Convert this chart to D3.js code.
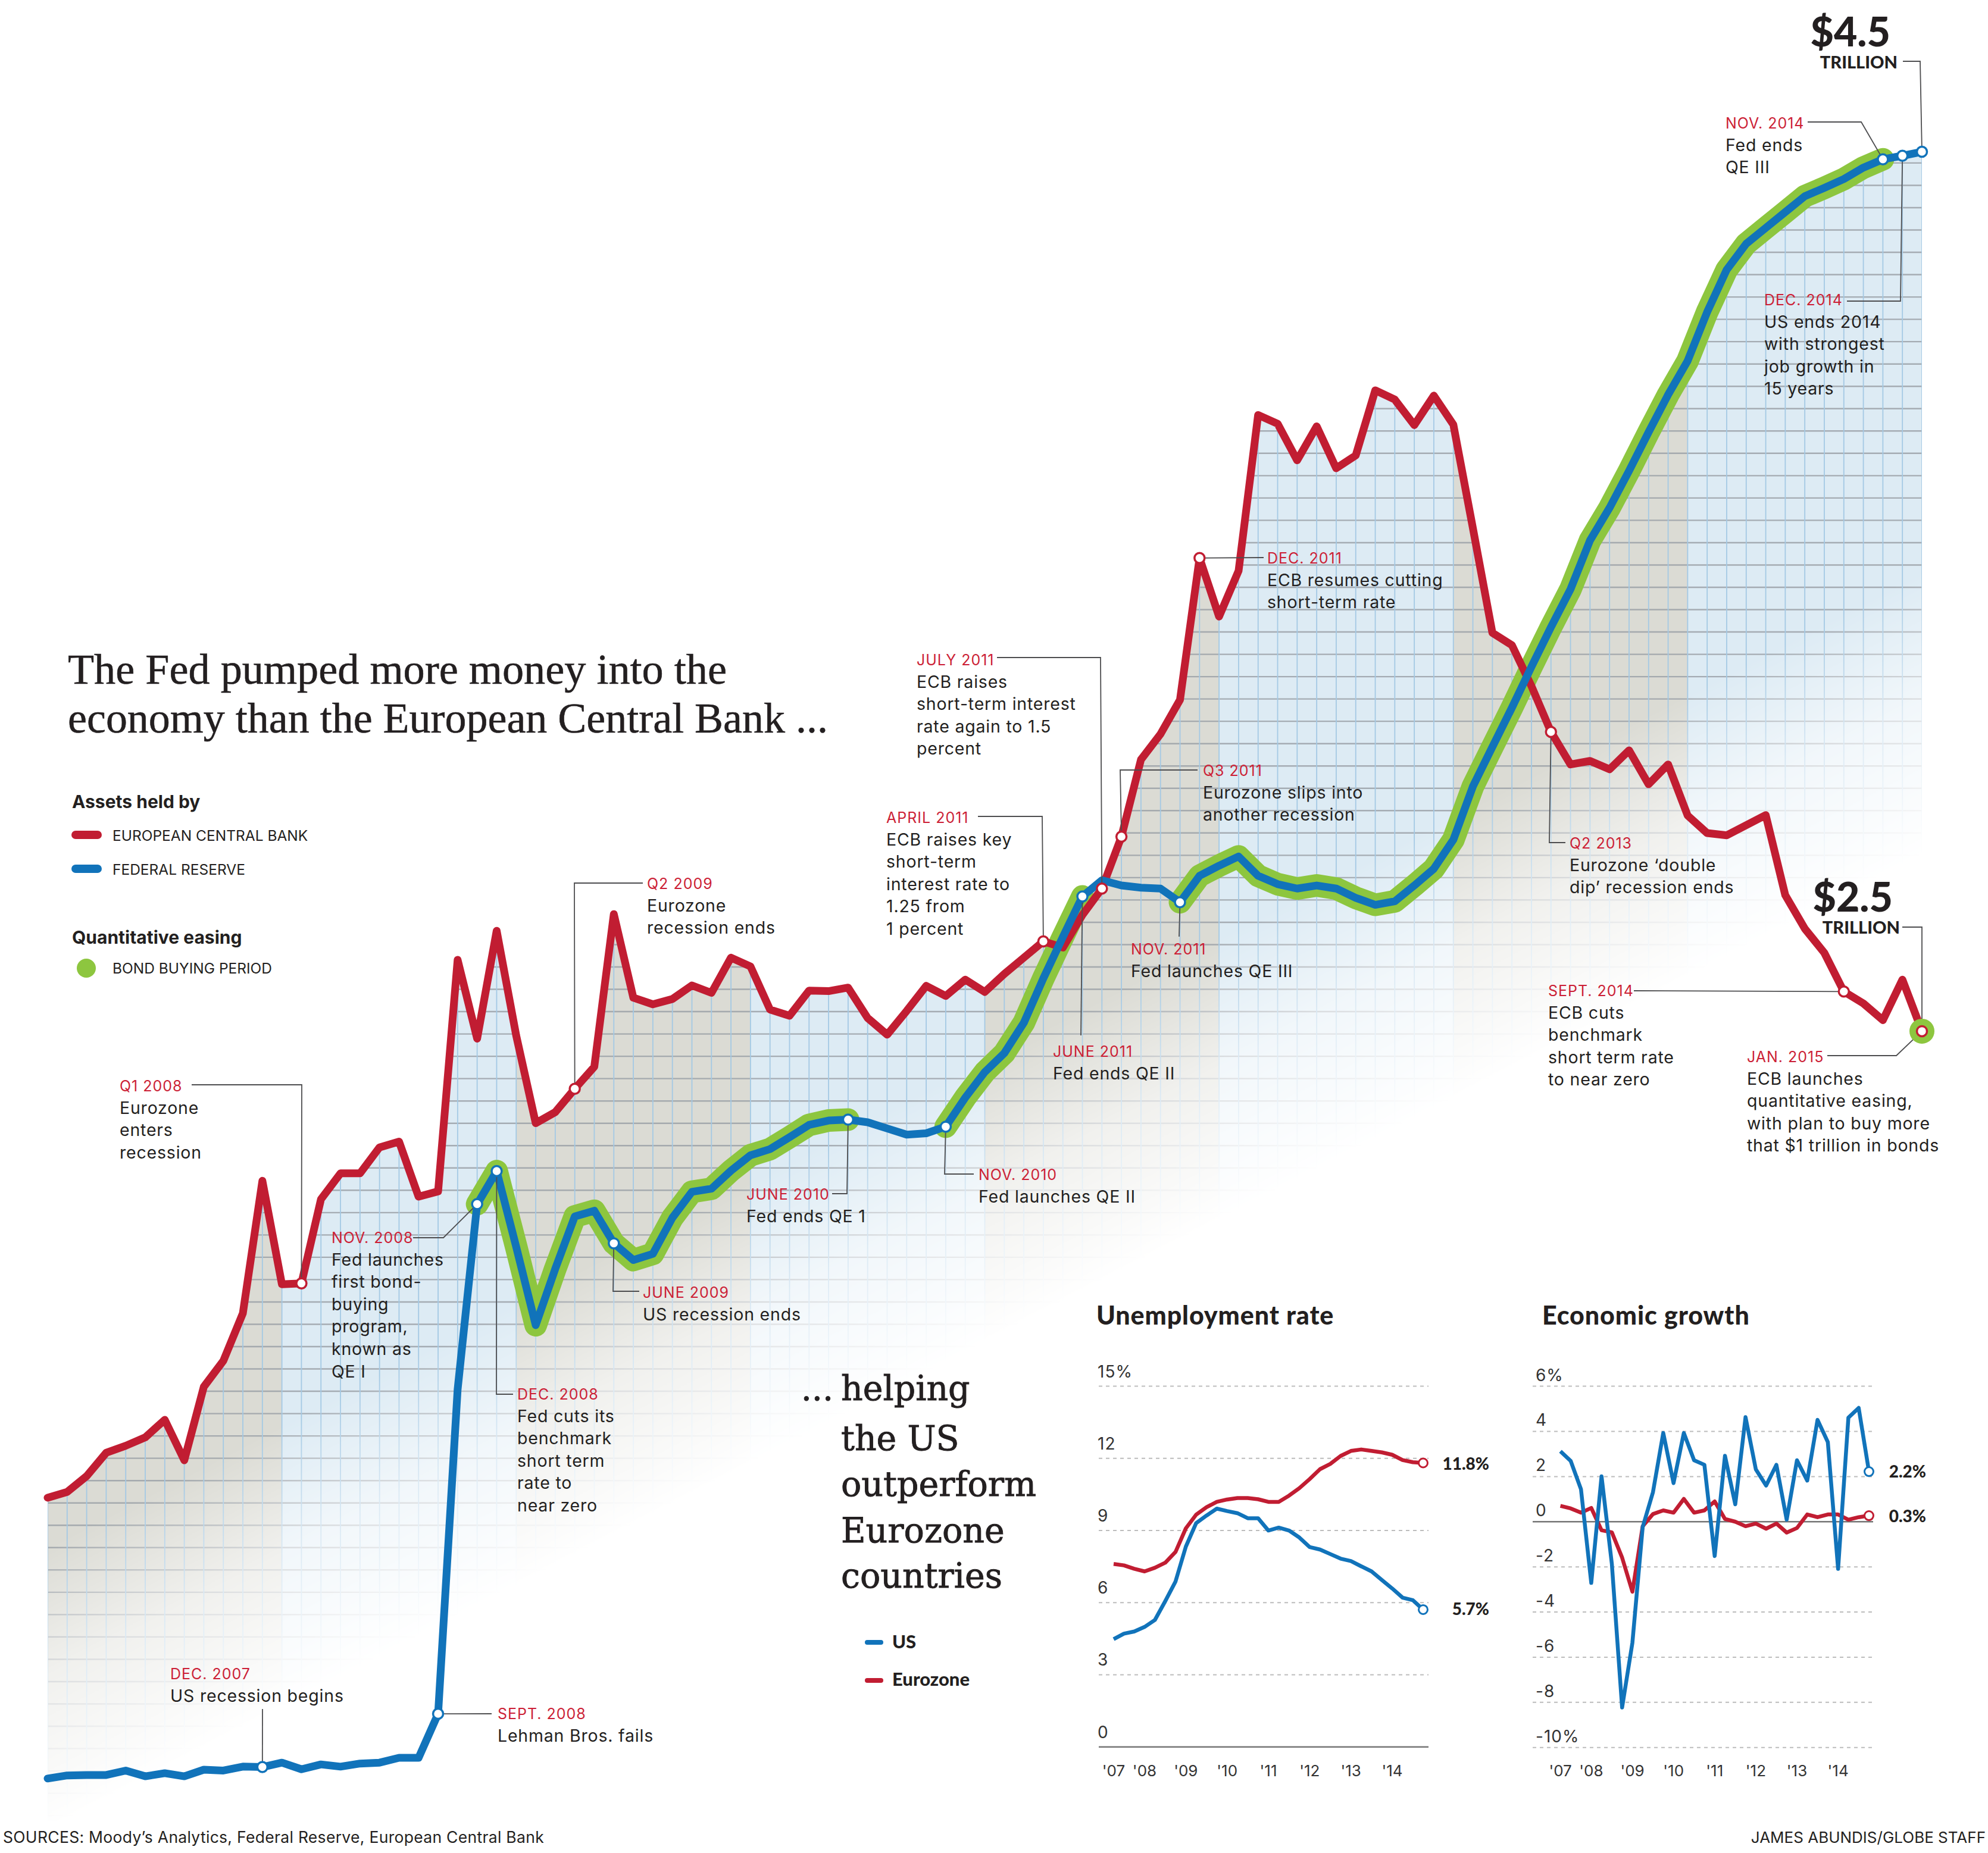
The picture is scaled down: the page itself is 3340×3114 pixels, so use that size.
<!DOCTYPE html>
<html><head><meta charset="utf-8">
<script src="https://cdn.jsdelivr.net/npm/d3@7/dist/d3.min.js"></script>
<style>
html,body{margin:0;padding:0;background:#fff;}
svg{display:block;}
</style></head>
<body>
<svg id="chart" width="3340" height="3114" xmlns="http://www.w3.org/2000/svg"></svg>
<script>
// ================= DATA =================
// Monthly categories, Jan 2007 .. Jan 2015
const months = d3.timeMonth.range(new Date(2007,0,1), new Date(2015,0,2)).map(d3.timeFormat("%Y-%m"));

// Assets held, trillions of dollars
const ecbAssets = [
 1.440,1.453,1.489,1.542,1.558,1.577,1.617,1.525,1.692,1.751,1.859,2.160,
 1.925,1.927,2.118,2.177,2.177,2.236,2.249,2.124,2.136,2.662,2.483,2.728,
 2.490,2.291,2.316,2.369,2.419,2.766,2.576,2.561,2.573,2.604,2.587,2.667,
 2.647,2.549,2.535,2.592,2.591,2.599,2.530,2.492,2.546,2.603,2.580,2.617,
 2.589,2.630,2.667,2.704,2.690,2.764,2.824,2.942,3.117,3.175,3.253,3.575,
 3.442,3.546,3.900,3.880,3.797,3.874,3.779,3.808,3.956,3.935,3.877,3.944,
 3.878,3.643,3.405,3.377,3.284,3.180,3.106,3.114,3.095,3.138,3.061,3.106,
 2.990,2.950,2.945,2.968,2.991,2.809,2.733,2.678,2.590,2.563,2.525,2.617,
 2.500];
const fedAssets = [
 0.802,0.809,0.810,0.810,0.820,0.807,0.814,0.807,0.822,0.820,0.829,0.828,
 0.838,0.823,0.834,0.829,0.836,0.838,0.849,0.849,0.949,1.686,2.107,2.182,
 2.010,1.832,1.960,2.079,2.092,2.018,1.980,1.994,2.076,2.135,2.142,2.183,
 2.218,2.232,2.259,2.287,2.297,2.299,2.293,2.279,2.265,2.268,2.283,2.349,
 2.407,2.450,2.519,2.620,2.714,2.806,2.843,2.831,2.826,2.824,2.793,2.853,
 2.876,2.897,2.853,2.834,2.824,2.831,2.824,2.803,2.787,2.795,2.831,2.869,
 2.935,3.056,3.146,3.235,3.328,3.418,3.504,3.615,3.689,3.773,3.861,3.946,
 4.023,4.134,4.230,4.289,4.325,4.361,4.397,4.416,4.436,4.462,4.481,4.489,
 4.498];
// Fed bond-buying periods
const qePeriods = [["2008-11","2010-06"],["2010-11","2011-06"],["2011-11","2014-11"]];

// Quarterly categories Q2 2007 .. Q4 2014
const quarters = d3.range(31).map(i => { const a = 2007*4 + 1 + i; return Math.floor(a/4) + "Q" + (a%4 + 1); });
const usUnemployment = [4.48,4.71,4.80,4.99,5.28,6.06,6.88,8.33,9.31,9.62,9.91,9.81,9.72,9.51,9.51,9.00,
 9.12,9.00,8.71,8.31,8.21,8.02,7.83,7.73,7.51,7.30,6.94,6.59,6.21,6.10,5.71];
const euUnemployment = [7.61,7.55,7.41,7.30,7.45,7.66,8.11,9.09,9.66,9.97,10.19,10.29,10.35,10.35,10.30,10.19,
 10.19,10.45,10.76,11.14,11.55,11.77,12.10,12.31,12.37,12.31,12.25,12.15,11.93,11.84,11.81];
const usGrowth = [3.12,2.69,1.44,-2.71,2.01,-1.86,-8.23,-5.36,-0.24,1.31,3.93,1.71,3.93,2.72,2.52,-1.52,
 2.92,0.77,4.63,2.32,1.60,2.52,0.09,2.72,1.82,4.51,3.53,-2.09,4.61,5.04,2.22];
const euGrowth = [0.70,0.59,0.40,0.61,-0.38,-0.47,-1.59,-3.10,-0.20,0.34,0.50,0.40,1.01,0.40,0.50,0.90,
 0.12,0.00,-0.20,-0.08,-0.31,-0.08,-0.48,-0.28,0.32,0.20,0.32,0.32,0.09,0.20,0.27];
const yearTickQuarters = ["2007Q2","2008Q1","2009Q1","2010Q1","2011Q1","2012Q1","2013Q1","2014Q1"];
const yearTickLabels = ["'07","'08","'09","'10","'11","'12","'13","'14"];
const unempTicks = [0,3,6,9,12,15];
const unempTickLabels = ["0","3","6","9","12","15%"];
const growthTicks = [-10,-8,-6,-4,-2,0,2,4,6];
const growthTickLabels = ["-10%","-8","-6","-4","-2","0","2","4","6%"];

// Annotations (text + layout)
const annotations = [
 {key:"2008-02", s:"ecb", date:"Q1 2008", lines:["Eurozone","enters","recession"], tx:201, ty:1834, leader:[[322,1823],[507,1823]]},
 {key:"2008-11", s:"fed", date:"NOV. 2008", lines:["Fed launches","first bond-","buying","program,","known as","QE I"], tx:557, ty:2089, leader:[[694,2080],[745,2080]]},
 {key:"2008-12", s:"fed", date:"DEC. 2008", lines:["Fed cuts its","benchmark","short term","rate to","near zero"], tx:869, ty:2352, leader:[[862,2343],[834,2343]]},
 {key:"2007-12", s:"fed", date:"DEC. 2007", lines:["US recession begins"], tx:286, ty:2822, leader:[[441,2872]]},
 {key:"2008-09", s:"fed", date:"SEPT. 2008", lines:["Lehman Bros. fails"], tx:836, ty:2889, leader:[[826,2880]]},
 {key:"2009-04", s:"ecb", date:"Q2 2009", lines:["Eurozone","recession ends"], tx:1087, ty:1494, leader:[[1080,1484],[965,1484]]},
 {key:"2009-06", s:"fed", date:"JUNE 2009", lines:["US recession ends"], tx:1080, ty:2181, leader:[[1074,2170],[1030,2170]]},
 {key:"2010-06", s:"fed", date:"JUNE 2010", lines:["Fed ends QE 1"], tx:1254, ty:2016, leader:[[1398,2006],[1423,2006]]},
 {key:"2010-11", s:"fed", date:"NOV. 2010", lines:["Fed launches QE II"], tx:1644, ty:1983, leader:[[1636,1973],[1587,1973]]},
 {key:"2011-04", s:"ecb", date:"APRIL 2011", lines:["ECB raises key","short-term","interest rate to","1.25 from","1 percent"], tx:1489, ty:1383, leader:[[1643,1372],[1751,1372]]},
 {key:"2011-07", s:"ecb", date:"JULY 2011", lines:["ECB raises","short-term interest","rate again to 1.5","percent"], tx:1540, ty:1118, leader:[[1675,1105],[1849,1105]]},
 {key:"2011-06", s:"fed", date:"JUNE 2011", lines:["Fed ends QE II"], tx:1769, ty:1776, leader:[[1816,1740]]},
 {key:"2011-08", s:"ecb", date:"Q3 2011", lines:["Eurozone slips into","another recession"], tx:2021, ty:1304, leader:[[2012,1294],[1882,1294]]},
 {key:"2011-11", s:"fed", date:"NOV. 2011", lines:["Fed launches QE III"], tx:1900, ty:1604, leader:[[1981,1574]]},
 {key:"2011-12", s:"ecb", date:"DEC. 2011", lines:["ECB resumes cutting","short-term rate"], tx:2129, ty:947, leader:[[2123,937]]},
 {key:"2013-06", s:"ecb", date:"Q2 2013", lines:["Eurozone \u2018double","dip\u2019 recession ends"], tx:2637, ty:1426, leader:[[2630,1416],[2603,1416]]},
 {key:"2014-09", s:"ecb", date:"SEPT. 2014", lines:["ECB cuts","benchmark","short term rate","to near zero"], tx:2601, ty:1674, leader:[[2745,1665]]},
 {key:"2015-01", s:"ecb", date:"JAN. 2015", lines:["ECB launches","quantitative easing,","with plan to buy more","that $1 trillion in bonds"], tx:2935, ty:1785, leader:[[3070,1774],[3186,1774]]},
 {key:"2014-11", s:"fed", date:"NOV. 2014", lines:["Fed ends","QE III"], tx:2899, ty:216, leader:[[3037,205],[3127,205]]},
 {key:"2014-12", s:"fed", date:"DEC. 2014", lines:["US ends 2014","with strongest","job growth in","15 years"], tx:2964, ty:513, leader:[[3103,506],[3193,506]]},
 {key:"2015-01", s:"fed", date:null, lines:[], leader:[[3197,103],[3226,103]]}
];

// ================= STYLE =================
const RED = "#c11d32", BLUE = "#1173ba", GREEN = "#8dc63f", DATE_RED = "#cc1f36", INK = "#231f20";
const SANS = "Inter, 'Open Sans', 'DejaVu Sans', sans-serif";
const HEAVY = "Lato, Inter, sans-serif";

const svg = d3.select("#chart");
const defs = svg.append("defs");

// ================= MAIN CHART =================
const x = d3.scalePoint().domain(months).range([80, 3229]);
const y = d3.scaleLinear().domain([0, 4.5]).range([3582, 253.6]);
const fillBottom = 3060;
const xi = i => x(months[i]);

const areaGen = d3.area().x((d,i) => xi(i)).y0(fillBottom).y1(d => y(d));
const lineGen = d3.line().x((d,i) => xi(i)).y(d => y(d));

// clip = union of areas under both series
const clip = defs.append("clipPath").attr("id","under");
clip.append("path").attr("d", areaGen(ecbAssets));
clip.append("path").attr("d", areaGen(fedAssets));

// diagonal fade
const grad = defs.append("linearGradient").attr("id","fadeGrad")
  .attr("gradientUnits","userSpaceOnUse")
  .attr("x1",1080).attr("y1",2080).attr("x2",1275).attr("y2",2455);
grad.append("stop").attr("offset",0).attr("stop-color","#fff").attr("stop-opacity",1);
grad.append("stop").attr("offset",0.45).attr("stop-color","#fff").attr("stop-opacity",0.4);
grad.append("stop").attr("offset",1).attr("stop-color","#fff").attr("stop-opacity",0);
const mask = defs.append("mask").attr("id","fade").attr("maskUnits","userSpaceOnUse")
  .attr("x",0).attr("y",0).attr("width",3340).attr("height",3114);
mask.append("rect").attr("width",3340).attr("height",3114).attr("fill","url(#fadeGrad)");

const fillG = svg.append("g").attr("clip-path","url(#under)").attr("mask","url(#fade)");
d3.range(8).forEach(k => {
  fillG.append("rect")
    .attr("x", xi(12*k)).attr("width", xi(12*k+12) - xi(12*k))
    .attr("y", 0).attr("height", fillBottom)
    .attr("fill", k % 2 === 0 ? "#dbdbd4" : "#ddebf4");
});
// horizontal grid (one line every ~$50 billion)
const gridStep = 37.53 / (y(0) - y(1));
const gridAnchor = y.invert(2000.3);
d3.range(-30, 60).map(n => gridAnchor + n*gridStep).filter(v => y(v) > 200 && y(v) < fillBottom)
  .forEach(v => {
    fillG.append("line").attr("x1", 80).attr("x2", 3229).attr("y1", y(v)).attr("y2", y(v))
      .attr("stroke","#9ba1a7").attr("stroke-width",2.4).attr("stroke-opacity",0.85);
  });
// vertical grid (one per month)
months.forEach((m,i) => {
  fillG.append("line").attr("x1", xi(i)).attr("x2", xi(i)).attr("y1", 0).attr("y2", fillBottom)
    .attr("stroke","#a4c9e4").attr("stroke-width",1.8);
});

// QE highlight
const qeG = svg.append("g");
qePeriods.forEach(([a,b]) => {
  const ia = months.indexOf(a), ib = months.indexOf(b);
  const pts = d3.range(ia, ib+1).map(i => [xi(i), y(fedAssets[i])]);
  qeG.append("path").attr("d", d3.line()(pts)).attr("fill","none")
    .attr("stroke", GREEN).attr("stroke-width", 38)
    .attr("stroke-linecap","round").attr("stroke-linejoin","round");
});

svg.append("path").attr("d", lineGen(ecbAssets)).attr("fill","none")
  .attr("stroke", RED).attr("stroke-width", 13).attr("stroke-linejoin","round").attr("stroke-linecap","round");
svg.append("path").attr("d", lineGen(fedAssets)).attr("fill","none")
  .attr("stroke", BLUE).attr("stroke-width", 13).attr("stroke-linejoin","round").attr("stroke-linecap","round");

// annotations
const leadG = svg.append("g");
const dotG = svg.append("g");
const textG = svg.append("g");
function pointOf(a) {
  const ser = a.s === "ecb" ? ecbAssets : fedAssets;
  const i = months.indexOf(a.key);
  return [xi(i), y(ser[i])];
}
// green ring for ECB QE launch (Jan 2015)
{
  const p = pointOf({key:"2015-01", s:"ecb"});
  dotG.append("circle").attr("cx",p[0]).attr("cy",p[1]).attr("r",21).attr("fill",GREEN);
}
annotations.forEach(a => {
  const p = pointOf(a);
  leadG.append("path").attr("d", d3.line()(a.leader.concat([p]))).attr("fill","none")
    .attr("stroke","#4d4d4f").attr("stroke-width",1.8);
  dotG.append("circle").attr("cx",p[0]).attr("cy",p[1]).attr("r",8.5)
    .attr("fill","#fff").attr("stroke", a.s === "ecb" ? RED : BLUE).attr("stroke-width",3.5);
  if (a.date) {
    const t = textG.append("text").attr("font-family",SANS).attr("x",a.tx).attr("y",a.ty);
    t.append("tspan").attr("x",a.tx).attr("y",a.ty).attr("font-size",25).attr("letter-spacing",1)
      .attr("fill",DATE_RED).text(a.date);
    a.lines.forEach((ln,k) => {
      t.append("tspan").attr("x",a.tx).attr("y",a.ty + 37.6*(k+1)).attr("font-size",28.5)
        .attr("letter-spacing",0.8).attr("fill",INK).text(ln);
    });
  }
});
// ECB leader for $2.5
{
  const p = pointOf({key:"2015-01", s:"ecb"});
  leadG.append("path").attr("d", d3.line()([[3196,1558],[p[0],1558],[p[0],p[1]-9]])).attr("fill","none")
    .attr("stroke","#4d4d4f").attr("stroke-width",1.8);
}
// Big totals
function bigLabel(xr, yb, amount) {
  textG.append("text").attr("x",xr).attr("y",yb).attr("text-anchor","end")
    .attr("font-family",HEAVY).attr("font-weight",900).attr("font-size",68).attr("fill",INK).text(amount);
  textG.append("text").attr("x",xr+12).attr("y",yb+37).attr("text-anchor","end")
    .attr("font-family",HEAVY).attr("font-weight",900).attr("font-size",29).attr("fill",INK).text("TRILLION");
}
bigLabel(3176, 78, "$4.5");
bigLabel(3180, 1532, "$2.5");

// ================= TITLES & LEGEND =================
const title = svg.append("g").attr("font-family","'Liberation Serif', 'Times New Roman', serif").attr("fill",INK)
  .attr("stroke",INK).attr("stroke-width",0.6);
title.append("text").attr("x",114).attr("y",1149).attr("font-size",72)
  .attr("textLength",1107).attr("lengthAdjust","spacingAndGlyphs").text("The Fed pumped more money into the");
title.append("text").attr("x",114).attr("y",1231).attr("font-size",72)
  .attr("textLength",1277).attr("lengthAdjust","spacingAndGlyphs").text("economy than the European Central Bank ...");

const leg = svg.append("g").attr("font-family",SANS).attr("fill",INK);
leg.append("text").attr("x",121).attr("y",1358).attr("font-size",30).attr("font-weight",700).text("Assets held by");
leg.append("line").attr("x1",127).attr("x2",164).attr("y1",1403).attr("y2",1403).attr("stroke",RED).attr("stroke-width",14).attr("stroke-linecap","round");
leg.append("text").attr("x",189).attr("y",1413).attr("font-size",24.5).text("EUROPEAN CENTRAL BANK");
leg.append("line").attr("x1",127).attr("x2",164).attr("y1",1460).attr("y2",1460).attr("stroke",BLUE).attr("stroke-width",14).attr("stroke-linecap","round");
leg.append("text").attr("x",189).attr("y",1470).attr("font-size",24.5).text("FEDERAL RESERVE");
leg.append("text").attr("x",121).attr("y",1586).attr("font-size",30).attr("font-weight",700).text("Quantitative easing");
leg.append("circle").attr("cx",145).attr("cy",1627).attr("r",16).attr("fill",GREEN);
leg.append("text").attr("x",189).attr("y",1636).attr("font-size",24.5).text("BOND BUYING PERIOD");

// "... helping the US outperform Eurozone countries"
const sub = svg.append("g").attr("font-family","'DejaVu Serif', serif").attr("font-size",57).attr("fill",INK)
  .attr("stroke",INK).attr("stroke-width",0.9);
sub.append("text").attr("x",1400).attr("y",2353).attr("text-anchor","end").text("...");
[["helping",2353],["the US",2437],["outperform",2514],["Eurozone",2592],["countries",2668]].forEach(([t,yy]) => {
  sub.append("text").attr("x",1413).attr("y",yy).text(t);
});
const leg2 = svg.append("g").attr("font-family",HEAVY).attr("font-weight",900).attr("font-size",31).attr("fill",INK);
leg2.append("line").attr("x1",1457).attr("x2",1480).attr("y1",2760).attr("y2",2760).attr("stroke",BLUE).attr("stroke-width",8).attr("stroke-linecap","round");
leg2.append("text").attr("x",1499).attr("y",2770).text("US");
leg2.append("line").attr("x1",1457).attr("x2",1480).attr("y1",2824).attr("y2",2824).attr("stroke",RED).attr("stroke-width",8).attr("stroke-linecap","round");
leg2.append("text").attr("x",1499).attr("y",2833).text("Eurozone");

// ================= SMALL CHARTS =================
function smallChart(opt) {
  const g = svg.append("g");
  const sx = d3.scalePoint().domain(quarters).range(opt.xr);
  const sy = d3.scaleLinear().domain(opt.domain).range(opt.yr);
  g.append("text").attr("x",opt.titleX).attr("y",2226).attr("font-family",HEAVY).attr("font-weight",900)
    .attr("font-size",43).attr("letter-spacing",0.9).attr("fill",INK).text(opt.title);
  opt.ticks.forEach((t,k) => {
    const solid = (t === opt.solidAt);
    g.append("line").attr("x1",opt.gx[0]).attr("x2",opt.gx[1]).attr("y1",sy(t)).attr("y2",sy(t))
      .attr("stroke", solid ? "#777" : "#bdbdbd").attr("stroke-width", solid ? 2.5 : 2)
      .attr("stroke-dasharray", solid ? null : "6,6");
    g.append("text").attr("x",opt.labelX).attr("y",sy(t) - opt.labelGap).attr("font-family",SANS)
      .attr("font-size",28).attr("letter-spacing",1).attr("fill","#333").text(opt.tickLabels[k]);
  });
  yearTickQuarters.forEach((q,k) => {
    g.append("text").attr("x", sx(q)).attr("y", 2985).attr("text-anchor","middle").attr("font-family",SANS)
      .attr("font-size",26).attr("fill","#333").text(yearTickLabels[k]);
  });
  const ln = d3.line().x((d,i) => sx(quarters[i])).y(d => sy(d));
  [[opt.eu, RED],[opt.us, BLUE]].forEach(([ser,col]) => {
    g.append("path").attr("d", ln(ser)).attr("fill","none").attr("stroke",col).attr("stroke-width",6.5)
      .attr("stroke-linejoin","round");
  });
  [[opt.eu, RED, opt.euLabelY],[opt.us, BLUE, opt.usLabelY]].forEach(([ser,col,ly]) => {
    const last = ser.length - 1;
    g.append("circle").attr("cx", sx(quarters[last])).attr("cy", sy(ser[last])).attr("r",7.5)
      .attr("fill","#fff").attr("stroke",col).attr("stroke-width",3);
    g.append("text").attr("x", opt.valueX).attr("y", ly).attr("text-anchor","end")
      .attr("font-family",HEAVY).attr("font-weight",900).attr("font-size",28).attr("fill",INK)
      .text(ser[last].toFixed(1) + "%");
  });
}
smallChart({title:"Unemployment rate", titleX:1842, xr:[1871,2391], domain:[0,15], yr:[2935.7,2329.6],
  ticks:unempTicks, tickLabels:unempTickLabels, solidAt:0, gx:[1846,2400], labelX:1844, labelGap:15,
  us:usUnemployment, eu:euUnemployment, valueX:2502, euLabelY:2470, usLabelY:2714});
smallChart({title:"Economic growth", titleX:2591, xr:[2621.6,3140], domain:[-10,6], yr:[2936.7,2329.6],
  ticks:growthTicks, tickLabels:growthTickLabels, solidAt:0, gx:[2575,3147], labelX:2580, labelGap:9,
  us:usGrowth, eu:euGrowth, valueX:3236, euLabelY:2558, usLabelY:2483});

// ================= FOOTER =================
svg.append("text").attr("x",5).attr("y",3097).attr("font-family",SANS).attr("font-size",26.5).attr("letter-spacing",0.3).attr("fill",INK)
  .text("SOURCES: Moody\u2019s Analytics, Federal Reserve, European Central Bank");
svg.append("text").attr("x",3336).attr("y",3097).attr("text-anchor","end").attr("font-family",SANS).attr("font-size",26).attr("fill",INK)
  .text("JAMES ABUNDIS/GLOBE STAFF");
</script>
</body></html>
